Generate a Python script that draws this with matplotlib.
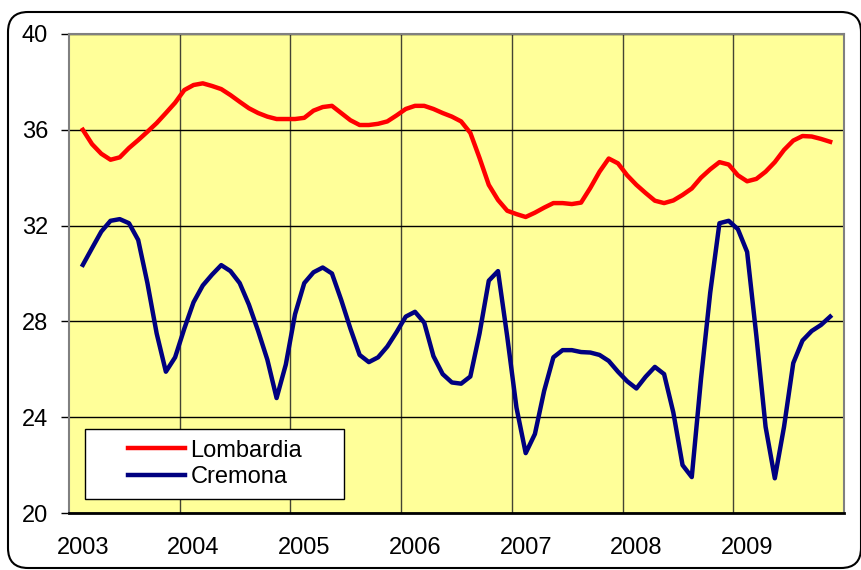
import matplotlib
matplotlib.use('Agg')
import matplotlib.pyplot as plt
from matplotlib.patches import FancyBboxPatch, Rectangle
from matplotlib.transforms import IdentityTransform

plt.rcParams['font.family'] = ['Liberation Sans', 'DejaVu Sans']

# monthly values, Feb 2003 .. Nov 2009 (category index 1..82)
lombardia = [36.0, 35.4, 35.0, 34.75, 34.85, 35.24, 35.57, 35.92, 36.28, 36.7,
             37.13, 37.66, 37.87, 37.94, 37.83, 37.7, 37.45, 37.17, 36.9, 36.7,
             36.55, 36.45, 36.45, 36.45, 36.5, 36.8, 36.95, 37.0, 36.7, 36.4,
             36.2, 36.2, 36.25, 36.35, 36.6, 36.87, 37.0, 37.0, 36.87, 36.7,
             36.55, 36.35, 35.87, 34.82, 33.7, 33.07, 32.62, 32.48, 32.36, 32.54,
             32.75, 32.94, 32.94, 32.9, 32.96, 33.57, 34.25, 34.8, 34.6, 34.1,
             33.7, 33.36, 33.04, 32.94, 33.05, 33.28, 33.55, 34.0, 34.35, 34.65,
             34.55, 34.1, 33.85, 33.95, 34.25, 34.65, 35.16, 35.55, 35.74, 35.72,
             35.62, 35.5]
cremona = [30.36, 31.06, 31.75, 32.2, 32.27, 32.1, 31.4, 29.6, 27.5, 25.9,
           26.5, 27.7, 28.8, 29.5, 29.95, 30.35, 30.1, 29.6, 28.7, 27.6,
           26.4, 24.8, 26.2, 28.3, 29.6, 30.05, 30.25, 30.0, 28.9, 27.7,
           26.6, 26.3, 26.5, 26.95, 27.55, 28.2, 28.4, 27.95, 26.55, 25.8,
           25.45, 25.4, 25.7, 27.5, 29.7, 30.1, 27.36, 24.4, 22.5, 23.3,
           25.1, 26.5, 26.8, 26.8, 26.72, 26.7, 26.6, 26.35, 25.9, 25.5,
           25.2, 25.69, 26.1, 25.8, 24.2, 22.0, 21.5, 25.6, 29.2, 32.1,
           32.2, 31.85, 30.9, 27.4, 23.6, 21.45, 23.6, 26.26, 27.2, 27.6,
           27.85, 28.2]
years = ['2003', '2004', '2005', '2006', '2007', '2008', '2009']
months = list(range(1, len(lombardia) + 1))

fig = plt.figure(figsize=(8.62, 5.70), dpi=100)
ax = fig.add_axes([69/862, 1 - 513/570, 775/862, 479/570])
ax.set_facecolor('#FFFF99')

ax.plot(months, lombardia, color='#FF0000', lw=3.2, solid_joinstyle='round', zorder=3)
ax.plot(months, cremona, color='#000080', lw=3.2, solid_joinstyle='round', zorder=3)

ax.set_xlim(-0.5, 83.5)
ax.set_ylim(20, 40)

ax.set_xticks([1 + 12*k for k in range(len(years))])
ax.set_xticklabels(years)
ax.set_xticks([11.5 + 12*k for k in range(6)], minor=True)
ax.set_yticks(range(20, 41, 4))

ax.tick_params(axis='x', which='both', length=0, pad=17, labelsize=17)
ax.tick_params(axis='y', length=6, width=1, pad=9, labelsize=17, color='black')
ax.grid(axis='y', which='major', color='black', lw=1)
ax.grid(axis='x', which='minor', color='#444433', lw=1)
ax.set_axisbelow(True)

for side in ['left', 'top', 'right']:
    ax.spines[side].set_color('#808080')
    ax.spines[side].set_linewidth(1.5)
ax.spines['bottom'].set_color('black')
ax.spines['bottom'].set_linewidth(2)

# legend box drawn like the Excel one
ax.add_patch(Rectangle((16/775, 14/479), 259/775, 70/479, transform=ax.transAxes,
                       facecolor='white', edgecolor='black', lw=1, zorder=4))
leg = ax.legend(['Lombardia', 'Cremona'], loc='center left',
                bbox_to_anchor=(59/775, 49/479), frameon=False, fontsize=17,
                handlelength=2.4, handletextpad=0.25, labelspacing=0.2,
                borderpad=0, borderaxespad=0)
leg.set_zorder(5)

# rounded chart border
fig.patches.append(FancyBboxPatch((8, 2), 853, 556, boxstyle='round,pad=0,rounding_size=20',
                                  transform=IdentityTransform(), facecolor='none',
                                  edgecolor='black', lw=1.5, figure=fig))

fig.savefig('out.png', dpi=100)
